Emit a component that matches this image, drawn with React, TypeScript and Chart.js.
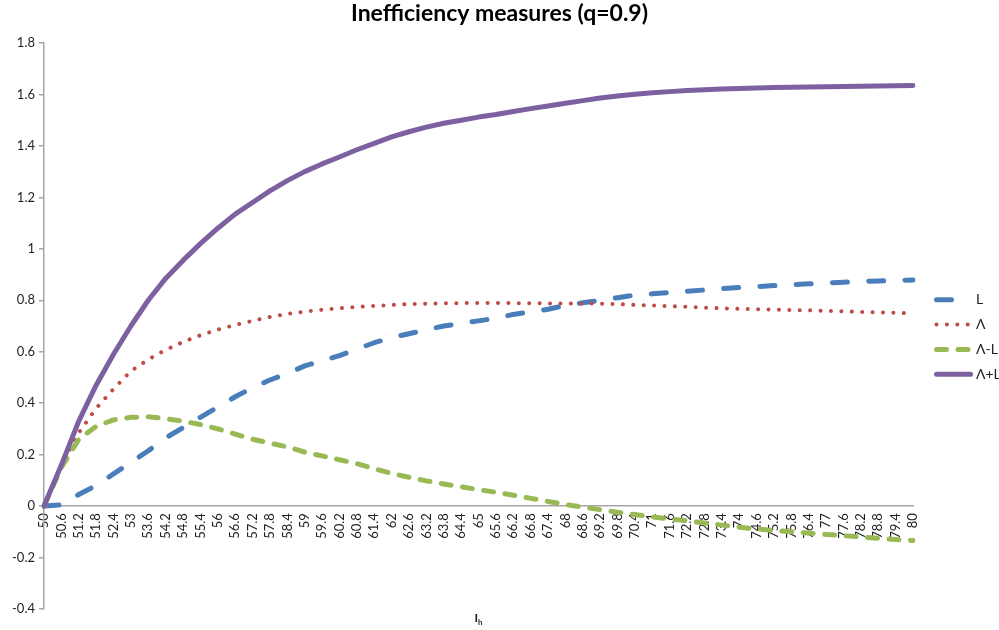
import React, { useEffect, useRef } from 'react';
import { Chart, registerables } from 'chart.js';

Chart.register(...registerables);

const categories = [
  '50', '50.6', '51.2', '51.8', '52.4', '53', '53.6', '54.2', '54.8', '55.4',
  '56', '56.6', '57.2', '57.8', '58.4', '59', '59.6', '60.2', '60.8', '61.4',
  '62', '62.6', '63.2', '63.8', '64.4', '65', '65.6', '66.2', '66.8', '67.4',
  '68', '68.6', '69.2', '69.8', '70.4', '71', '71.6', '72.2', '72.8', '73.4',
  '74', '74.6', '75.2', '75.8', '76.4', '77', '77.6', '78.2', '78.8', '79.4', '80',
];

const seriesL = [
  0, 0.005, 0.045, 0.08, 0.125, 0.17, 0.215, 0.265, 0.305, 0.345,
  0.385, 0.425, 0.46, 0.49, 0.515, 0.545, 0.565, 0.585, 0.61, 0.635,
  0.655, 0.67, 0.685, 0.7, 0.71, 0.72, 0.73, 0.745, 0.755, 0.765,
  0.78, 0.79, 0.8, 0.81, 0.82, 0.825, 0.83, 0.835, 0.84, 0.845,
  0.85, 0.853, 0.857, 0.86, 0.864, 0.867, 0.87, 0.873, 0.875, 0.877, 0.879,
];

const seriesLambda = [
  0, 0.155, 0.285, 0.38, 0.455, 0.525, 0.57, 0.607, 0.638, 0.664,
  0.686, 0.704, 0.72, 0.735, 0.747, 0.756, 0.763, 0.769, 0.774, 0.778,
  0.782, 0.785, 0.787, 0.788, 0.789, 0.789, 0.789, 0.789, 0.788, 0.788,
  0.787, 0.787, 0.787, 0.785, 0.782, 0.78, 0.777, 0.775, 0.771, 0.769,
  0.767, 0.765, 0.764, 0.762, 0.761, 0.759, 0.757, 0.755, 0.753, 0.751, 0.749,
];

const seriesLambdaMinusL = [
  0, 0.15, 0.26, 0.31, 0.335, 0.345, 0.347, 0.34, 0.33, 0.317,
  0.3, 0.28, 0.26, 0.245, 0.23, 0.21, 0.195, 0.18, 0.165, 0.145,
  0.127, 0.112, 0.098, 0.086, 0.075, 0.064, 0.054, 0.042, 0.03, 0.018,
  0.006, -0.004, -0.014, -0.024, -0.033, -0.042, -0.05, -0.057, -0.066, -0.074,
  -0.082, -0.089, -0.095, -0.1, -0.105, -0.11, -0.115, -0.12, -0.125, -0.13, -0.134,
];

const seriesLambdaPlusL = [
  0, 0.16, 0.33, 0.47, 0.59, 0.7, 0.8, 0.885, 0.955, 1.02,
  1.08, 1.135, 1.18, 1.225, 1.265, 1.3, 1.33, 1.357, 1.385, 1.41,
  1.435, 1.455, 1.473, 1.488, 1.5, 1.512, 1.522, 1.534, 1.545, 1.555,
  1.566, 1.576, 1.586, 1.594, 1.601, 1.607, 1.611, 1.615, 1.618, 1.621,
  1.623, 1.625, 1.627, 1.628, 1.629, 1.63, 1.631, 1.632, 1.633, 1.634, 1.635,
];

const seriesLabels = ['L', 'Λ', 'Λ-L', 'Λ+L'];

const Y_MIN = -0.4;
const Y_MAX = 1.8;
const Y_STEP = 0.2;

const TITLE = 'Inefficiency measures (q=0.9)';
const FONT = 'Lato, "Open Sans", "DejaVu Sans", sans-serif';
const TEXT_COLOR = '#1f1f1f';
const AXIS_COLOR = '#a6a6a6';

const sideLegend = {
  id: 'sideLegend',
  afterDraw(chart: any) {
    const { ctx, chartArea } = chart;
    const ds = chart.data.datasets;
    const n = ds.length;
    const spacing = 24.8;
    const centerY = 337;
    ds.forEach((d: any, i: number) => {
      const y = centerY + (i - (n - 1) / 2) * spacing;
      const x0 = chartArea.right + 23.5;
      const x1 = chartArea.right + 57.5;
      ctx.save();
      ctx.strokeStyle = d.borderColor;
      ctx.lineWidth = d.borderWidth;
      ctx.lineCap = 'round';
      ctx.setLineDash(d.borderDash || []);
      ctx.beginPath();
      ctx.moveTo(x0, y);
      ctx.lineTo(x1, y);
      ctx.stroke();
      ctx.setLineDash([]);
      ctx.fillStyle = TEXT_COLOR;
      ctx.font = `14px ${FONT}`;
      ctx.textAlign = 'left';
      ctx.textBaseline = 'middle';
      ctx.fillText(d.label, chartArea.right + 63, y);
      ctx.restore();
    });
  },
};

const xAxisTitle = {
  id: 'xAxisTitle',
  afterDraw(chart: any) {
    const { ctx, chartArea } = chart;
    const cx = (chartArea.left + chartArea.right) / 2;
    const y = chart.height - 8;
    ctx.save();
    ctx.fillStyle = TEXT_COLOR;
    ctx.textBaseline = 'alphabetic';
    ctx.textAlign = 'left';
    ctx.font = `bold 12px ${FONT}`;
    const wI = ctx.measureText('I').width;
    ctx.font = `bold 8px ${FONT}`;
    const wh = ctx.measureText('h').width;
    const start = cx - (wI + wh) / 2;
    ctx.font = `bold 12px ${FONT}`;
    ctx.fillText('I', start, y);
    ctx.font = `bold 8px ${FONT}`;
    ctx.fillText('h', start + wI, y + 3);
    ctx.restore();
  },
};

export default function App() {
  const canvasRef = useRef<HTMLCanvasElement | null>(null);

  useEffect(() => {
    const canvas = canvasRef.current;
    if (!canvas) return;
    const chart = new Chart(canvas, {
      type: 'line',
      data: {
        labels: categories,
        datasets: [
          {
            label: seriesLabels[0],
            data: seriesL,
            borderColor: '#4a7ebb',
            borderWidth: 5,
            borderDash: [15, 21.3],
            borderCapStyle: 'round',
            borderJoinStyle: 'round',
            pointRadius: 0,
            order: 3,
          },
          {
            label: seriesLabels[1],
            data: seriesLambda,
            borderColor: '#be4b48',
            borderWidth: 4,
            borderDash: [0.01, 10.4],
            borderCapStyle: 'round',
            borderJoinStyle: 'round',
            pointRadius: 0,
            order: 2,
          },
          {
            label: seriesLabels[2],
            data: seriesLambdaMinusL,
            borderColor: '#98b954',
            borderWidth: 5,
            borderDash: [10, 11.5],
            borderCapStyle: 'round',
            borderJoinStyle: 'round',
            pointRadius: 0,
            order: 1,
          },
          {
            label: seriesLabels[3],
            data: seriesLambdaPlusL,
            borderColor: '#7d60a0',
            borderWidth: 5,
            borderCapStyle: 'round',
            borderJoinStyle: 'round',
            pointRadius: 0,
            order: 0,
          },
        ],
      },
      options: {
        responsive: false,
        animation: false,
        layout: { padding: { left: 0, right: 0, top: 0, bottom: 21 } },
        plugins: {
          legend: { display: false },
          tooltip: { enabled: false },
          title: {
            display: true,
            text: TITLE,
            color: '#000',
            font: { family: FONT, size: 23, weight: 'bold', lineHeight: 1.2 },
            padding: { top: 0, bottom: 15.4 },
          },
        },
        scales: {
          x: {
            type: 'category',
            position: { y: 0 } as any,
            offset: false,
            grid: { display: false, drawTicks: false },
            border: { display: true, color: AXIS_COLOR, width: 1.5 },
            ticks: {
              autoSkip: false,
              maxRotation: 90,
              minRotation: 90,
              padding: 7,
              color: TEXT_COLOR,
              font: { family: FONT, size: 13 },
            },
          },
          y: {
            min: Y_MIN,
            max: Y_MAX,
            afterFit: (scale: any) => {
              scale.width = 44;
            },
            grid: {
              drawOnChartArea: false,
              drawTicks: true,
              tickLength: 5,
              color: AXIS_COLOR,
              lineWidth: 1.5,
            },
            border: { display: true, color: AXIS_COLOR, width: 1.5 },
            ticks: {
              stepSize: Y_STEP,
              padding: 4,
              color: TEXT_COLOR,
              font: { family: FONT, size: 13 },
              callback: (v: any) => String(Math.round(Number(v) * 10) / 10),
            },
          },
          legendSpace: {
            type: 'linear',
            position: 'right',
            display: true,
            afterFit: (scale: any) => {
              scale.width = 86;
            },
            grid: { display: false, drawTicks: false },
            border: { display: false },
            ticks: { display: false },
          },
        },
      },
      plugins: [sideLegend, xAxisTitle],
    });
    return () => chart.destroy();
  }, []);

  return (
    <canvas
      ref={canvasRef}
      width={999}
      height={630}
      style={{ position: 'absolute', left: 0, top: 0, width: 999, height: 630 }}
    />
  );
}
